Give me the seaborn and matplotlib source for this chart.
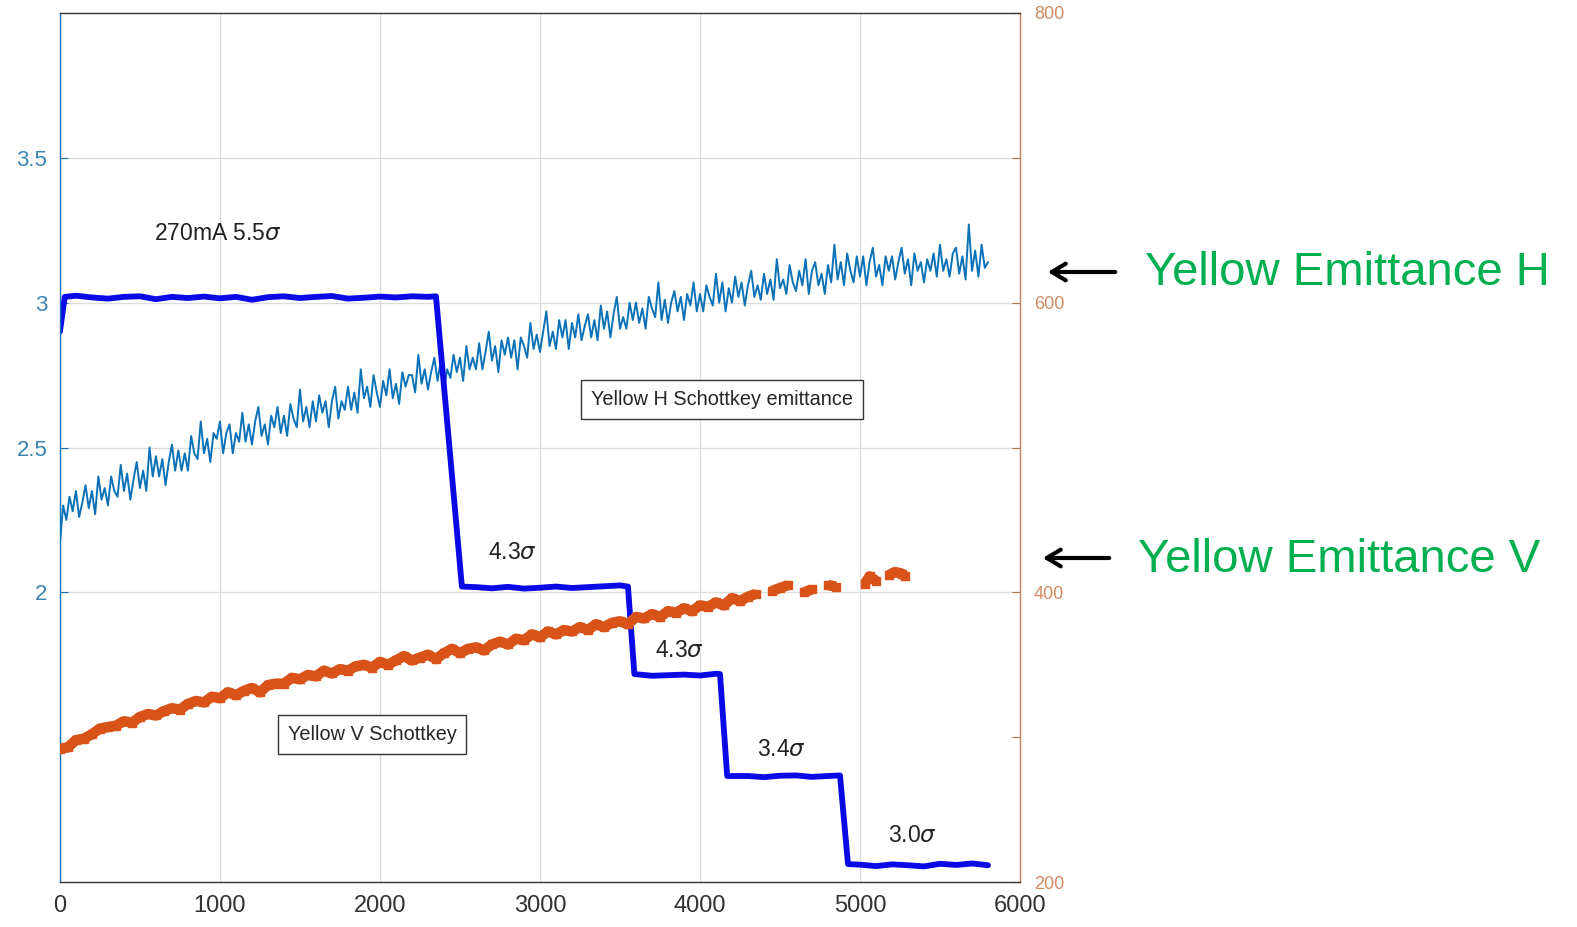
import numpy as np
import pandas as pd
import matplotlib
matplotlib.use("Agg")
import matplotlib.pyplot as plt
import seaborn as sns

# ---- data -------------------------------------------------------------
# Horizontal Schottkey emittance (left axis), one sample every 20 s
h_time = list(range(0, 5801, 20))
h_emit = [
    2.17, 2.30, 2.25, 2.33, 2.28, 2.35, 2.26, 2.31, 2.37, 2.29,
    2.35, 2.27, 2.40, 2.32, 2.36, 2.30, 2.40, 2.35, 2.33, 2.44,
    2.35, 2.41, 2.32, 2.39, 2.45, 2.36, 2.42, 2.35, 2.50, 2.40,
    2.47, 2.40, 2.46, 2.37, 2.45, 2.51, 2.42, 2.49, 2.42, 2.48,
    2.42, 2.54, 2.48, 2.46, 2.59, 2.48, 2.53, 2.45, 2.55, 2.53,
    2.59, 2.48, 2.55, 2.58, 2.48, 2.55, 2.52, 2.62, 2.52, 2.58,
    2.51, 2.59, 2.64, 2.54, 2.58, 2.51, 2.61, 2.57, 2.64, 2.55,
    2.61, 2.54, 2.65, 2.60, 2.57, 2.70, 2.59, 2.64, 2.57, 2.66,
    2.59, 2.68, 2.62, 2.66, 2.57, 2.66, 2.71, 2.60, 2.66, 2.63,
    2.71, 2.63, 2.69, 2.62, 2.77, 2.67, 2.71, 2.64, 2.75, 2.69,
    2.64, 2.73, 2.68, 2.77, 2.67, 2.72, 2.65, 2.76, 2.71, 2.75,
    2.75, 2.69, 2.82, 2.72, 2.77, 2.70, 2.76, 2.81, 2.73, 2.80,
    2.70, 2.77, 2.74, 2.82, 2.76, 2.81, 2.73, 2.85, 2.77, 2.81,
    2.77, 2.86, 2.77, 2.83, 2.90, 2.80, 2.85, 2.76, 2.87, 2.82,
    2.88, 2.81, 2.87, 2.77, 2.88, 2.85, 2.81, 2.93, 2.84, 2.89,
    2.83, 2.90, 2.97, 2.85, 2.90, 2.84, 2.94, 2.88, 2.94, 2.84,
    2.93, 2.88, 2.96, 2.87, 2.92, 2.96, 2.88, 2.94, 2.87, 2.99,
    2.91, 2.97, 2.88, 2.96, 3.02, 2.91, 2.95, 2.91, 3.00, 2.94,
    3.00, 2.93, 2.98, 2.91, 3.02, 2.98, 2.95, 3.07, 2.94, 3.01,
    2.93, 3.00, 3.04, 2.97, 3.02, 2.94, 3.03, 2.99, 3.07, 2.97,
    3.03, 2.97, 3.06, 3.02, 2.99, 3.10, 3.00, 3.07, 2.97, 3.05,
    3.00, 3.09, 3.02, 3.07, 2.99, 3.06, 3.11, 3.02, 3.06, 3.01,
    3.10, 3.03, 3.08, 3.01, 3.15, 3.05, 3.08, 3.03, 3.13, 3.07,
    3.04, 3.11, 3.06, 3.15, 3.03, 3.11, 3.14, 3.06, 3.10, 3.03,
    3.13, 3.07, 3.20, 3.08, 3.14, 3.06, 3.17, 3.11, 3.07, 3.16,
    3.09, 3.16, 3.06, 3.14, 3.19, 3.09, 3.13, 3.06, 3.16, 3.11,
    3.16, 3.08, 3.14, 3.19, 3.10, 3.15, 3.06, 3.17, 3.11, 3.14,
    3.07, 3.15, 3.11, 3.17, 3.09, 3.20, 3.11, 3.15, 3.09, 3.17,
    3.19, 3.10, 3.16, 3.08, 3.27, 3.11, 3.18, 3.09, 3.20, 3.12,
    3.14,
]

# Vertical Schottkey signal (right axis); NaN marks dropped samples
v_time = list(range(0, 4351, 50)) + [
    4400, 4450, 4500, 4550, 4600, 4650, 4700, 4750, 4800, 4850,
    4900, 5030, 5060, 5100, 5150, 5180, 5220, 5260, 5280]
v_emit = [
    292, 293, 298, 299, 302, 306, 307, 308, 311, 310,
    314, 316, 315, 318, 320, 319, 323, 325, 324, 328,
    327, 331, 329, 332, 334, 331, 336, 337, 337, 341,
    340, 343, 342, 346, 344, 347, 346, 349, 350, 348,
    352, 350, 353, 356, 353, 355, 357, 354, 358, 361,
    358, 361, 362, 360, 364, 366, 364, 368, 367, 371,
    369, 373, 371, 374, 373, 376, 374, 378, 376, 379,
    380, 378, 383, 382, 385, 383, 387, 386, 389, 387,
    391, 390, 393, 391, 396, 394, 397, 399,
    np.nan, 401, 403, 405, np.nan, 400, 402, np.nan, 405, 404,
    np.nan, 406, 411, 408, np.nan, 412, 414, 413, 411,
]

# Stepped beam-scraping trace (left axis scale)
step_time = [0, 30] + list(range(100, 2301, 100)) + [2350, 2512] + \
    list(range(2600, 3501, 100)) + [3550, 3590] + \
    list(range(3700, 4101, 100)) + [4125, 4170] + \
    list(range(4300, 4801, 100)) + [4875, 4925] + \
    list(range(5000, 5801, 100))
step_level = [
    2.90, 3.020,
    3.024, 3.018, 3.014, 3.020, 3.022, 3.012, 3.020, 3.016, 3.021, 3.015,
    3.020, 3.010, 3.019, 3.022, 3.016, 3.020, 3.023, 3.014, 3.017, 3.021,
    3.018, 3.022, 3.020,
    3.022, 2.020,
    2.018, 2.014, 2.019, 2.013, 2.016, 2.020, 2.015, 2.018, 2.021, 2.024,
    2.020, 1.718,
    1.712, 1.714, 1.716, 1.713, 1.719,
    1.718, 1.366,
    1.366, 1.362, 1.367, 1.368, 1.363, 1.366,
    1.368, 1.062,
    1.060, 1.055, 1.061, 1.058, 1.054, 1.063, 1.059, 1.064, 1.058,
]

step_labels = ["270mA 5.5$\\sigma$", "4.3$\\sigma$", "4.3$\\sigma$",
               "3.4$\\sigma$", "3.0$\\sigma$"]
step_label_x = [987, 2830, 3870, 4507, 5330]
step_label_y = [3.238, 2.138, 1.800, 1.459, 1.162]

x_ticks = [0, 1000, 2000, 3000, 4000, 5000, 6000]
left_ticks = [2, 2.5, 3, 3.5]
right_ticks = [200, 300, 400, 500, 600, 700, 800]
right_tick_labels = ["200", "", "400", "", "600", "", "800"]

df_h = pd.DataFrame({"t": h_time, "e": h_emit})
df_v = pd.DataFrame({"t": v_time, "e": v_emit})
df_s = pd.DataFrame({"t": step_time, "e": step_level})

# ---- style ------------------------------------------------------------
sns.set_style("white")
plt.rcParams["font.family"] = ["Liberation Sans", "DejaVu Sans"]
plt.rcParams["mathtext.fontset"] = "dejavusans"

C_H = "#0b72b8"
C_V = "#d95319"
C_STEP = "#0a0ae6"
C_GRID = "#dcdcdc"
C_LTICK = "#3a84b4"
C_RTICK = "#d08a62"

fig = plt.figure(figsize=(15.77, 9.27), dpi=100)
ax = fig.add_axes([0.038, 0.0485, 0.6088, 0.9375])
ax2 = ax.twinx()

# left-axis traces
sns.lineplot(data=df_h, x="t", y="e", ax=ax, color=C_H, lw=1.4,
             estimator=None, sort=False, zorder=3)
sns.lineplot(data=df_s, x="t", y="e", ax=ax, color=C_STEP, lw=4.2,
             estimator=None, sort=False, zorder=4)

# right-axis trace
ax2.plot(df_v["t"], df_v["e"], color=C_V, lw=7.5, marker="s", ms=6,
         mec=C_V, solid_capstyle="butt", zorder=3)

ax.set_xlim(0, 6000)
ax.set_ylim(1, 4)
ax2.set_ylim(200, 800)

ax.set_xticks(x_ticks)
ax.set_xticklabels([str(v) for v in x_ticks], fontsize=17)
ax.set_yticks(left_ticks)
ax.set_yticklabels(["2", "2.5", "3", "3.5"], fontsize=16)
ax2.set_yticks(right_ticks)
ax2.set_yticklabels(right_tick_labels, fontsize=13)
ax.set_xlabel("")
ax.set_ylabel("")
ax2.set_ylabel("")

ax.grid(True, color=C_GRID, lw=0.9)
ax.set_axisbelow(True)
ax.tick_params(axis="both", direction="in", length=6, width=0.8)
ax.tick_params(axis="y", colors=C_H, labelcolor=C_LTICK, pad=9)
ax.tick_params(axis="x", colors="#222222", labelcolor="#333333", pad=9)
ax2.tick_params(axis="y", direction="in", length=6, width=0.8,
                colors="#b07050", labelcolor=C_RTICK, pad=10)

for sp in ["top", "bottom"]:
    ax2.spines[sp].set_color("#333333")
ax2.spines["left"].set_color(C_H)
ax2.spines["right"].set_color("#c8845a")
for sp in ax.spines.values():
    sp.set_visible(False)
for sp in ax2.spines.values():
    sp.set_linewidth(1.0)

# step annotations
for txt, tx, ty in zip(step_labels, step_label_x, step_label_y):
    ax.text(tx, ty, txt, fontsize=16.5, color="#222222", ha="center",
            va="center", zorder=6)

# boxed series names
box = dict(boxstyle="square,pad=0.5", fc="white", ec="#333333", lw=1.0)
ax.text(4140, 2.666, "Yellow H Schottkey emittance", fontsize=14.3,
        ha="center", va="center", bbox=box, zorder=6)
ax.text(1950, 1.51, "Yellow V Schottkey", fontsize=14.3,
        ha="center", va="center", bbox=box, zorder=6)

# callouts outside the axes
green = "#00b050"
fig.text(1145 / 1577, 1 - 273 / 927, "Yellow Emittance H", color=green,
         fontsize=34, ha="left", va="center")
fig.text(1138 / 1577, 1 - 560 / 927, "Yellow Emittance V", color=green,
         fontsize=34, ha="left", va="center")
for y0, x1, x0 in [(272, 1118, 1045), (558, 1112, 1040)]:
    fig.add_artist(matplotlib.patches.FancyArrowPatch(
        (x1 / 1577, 1 - y0 / 927), (x0 / 1577, 1 - y0 / 927),
        transform=fig.transFigure, arrowstyle="->,head_length=10,head_width=6",
        color="black", lw=3, mutation_scale=1))

fig.savefig("out.png", dpi=100)
